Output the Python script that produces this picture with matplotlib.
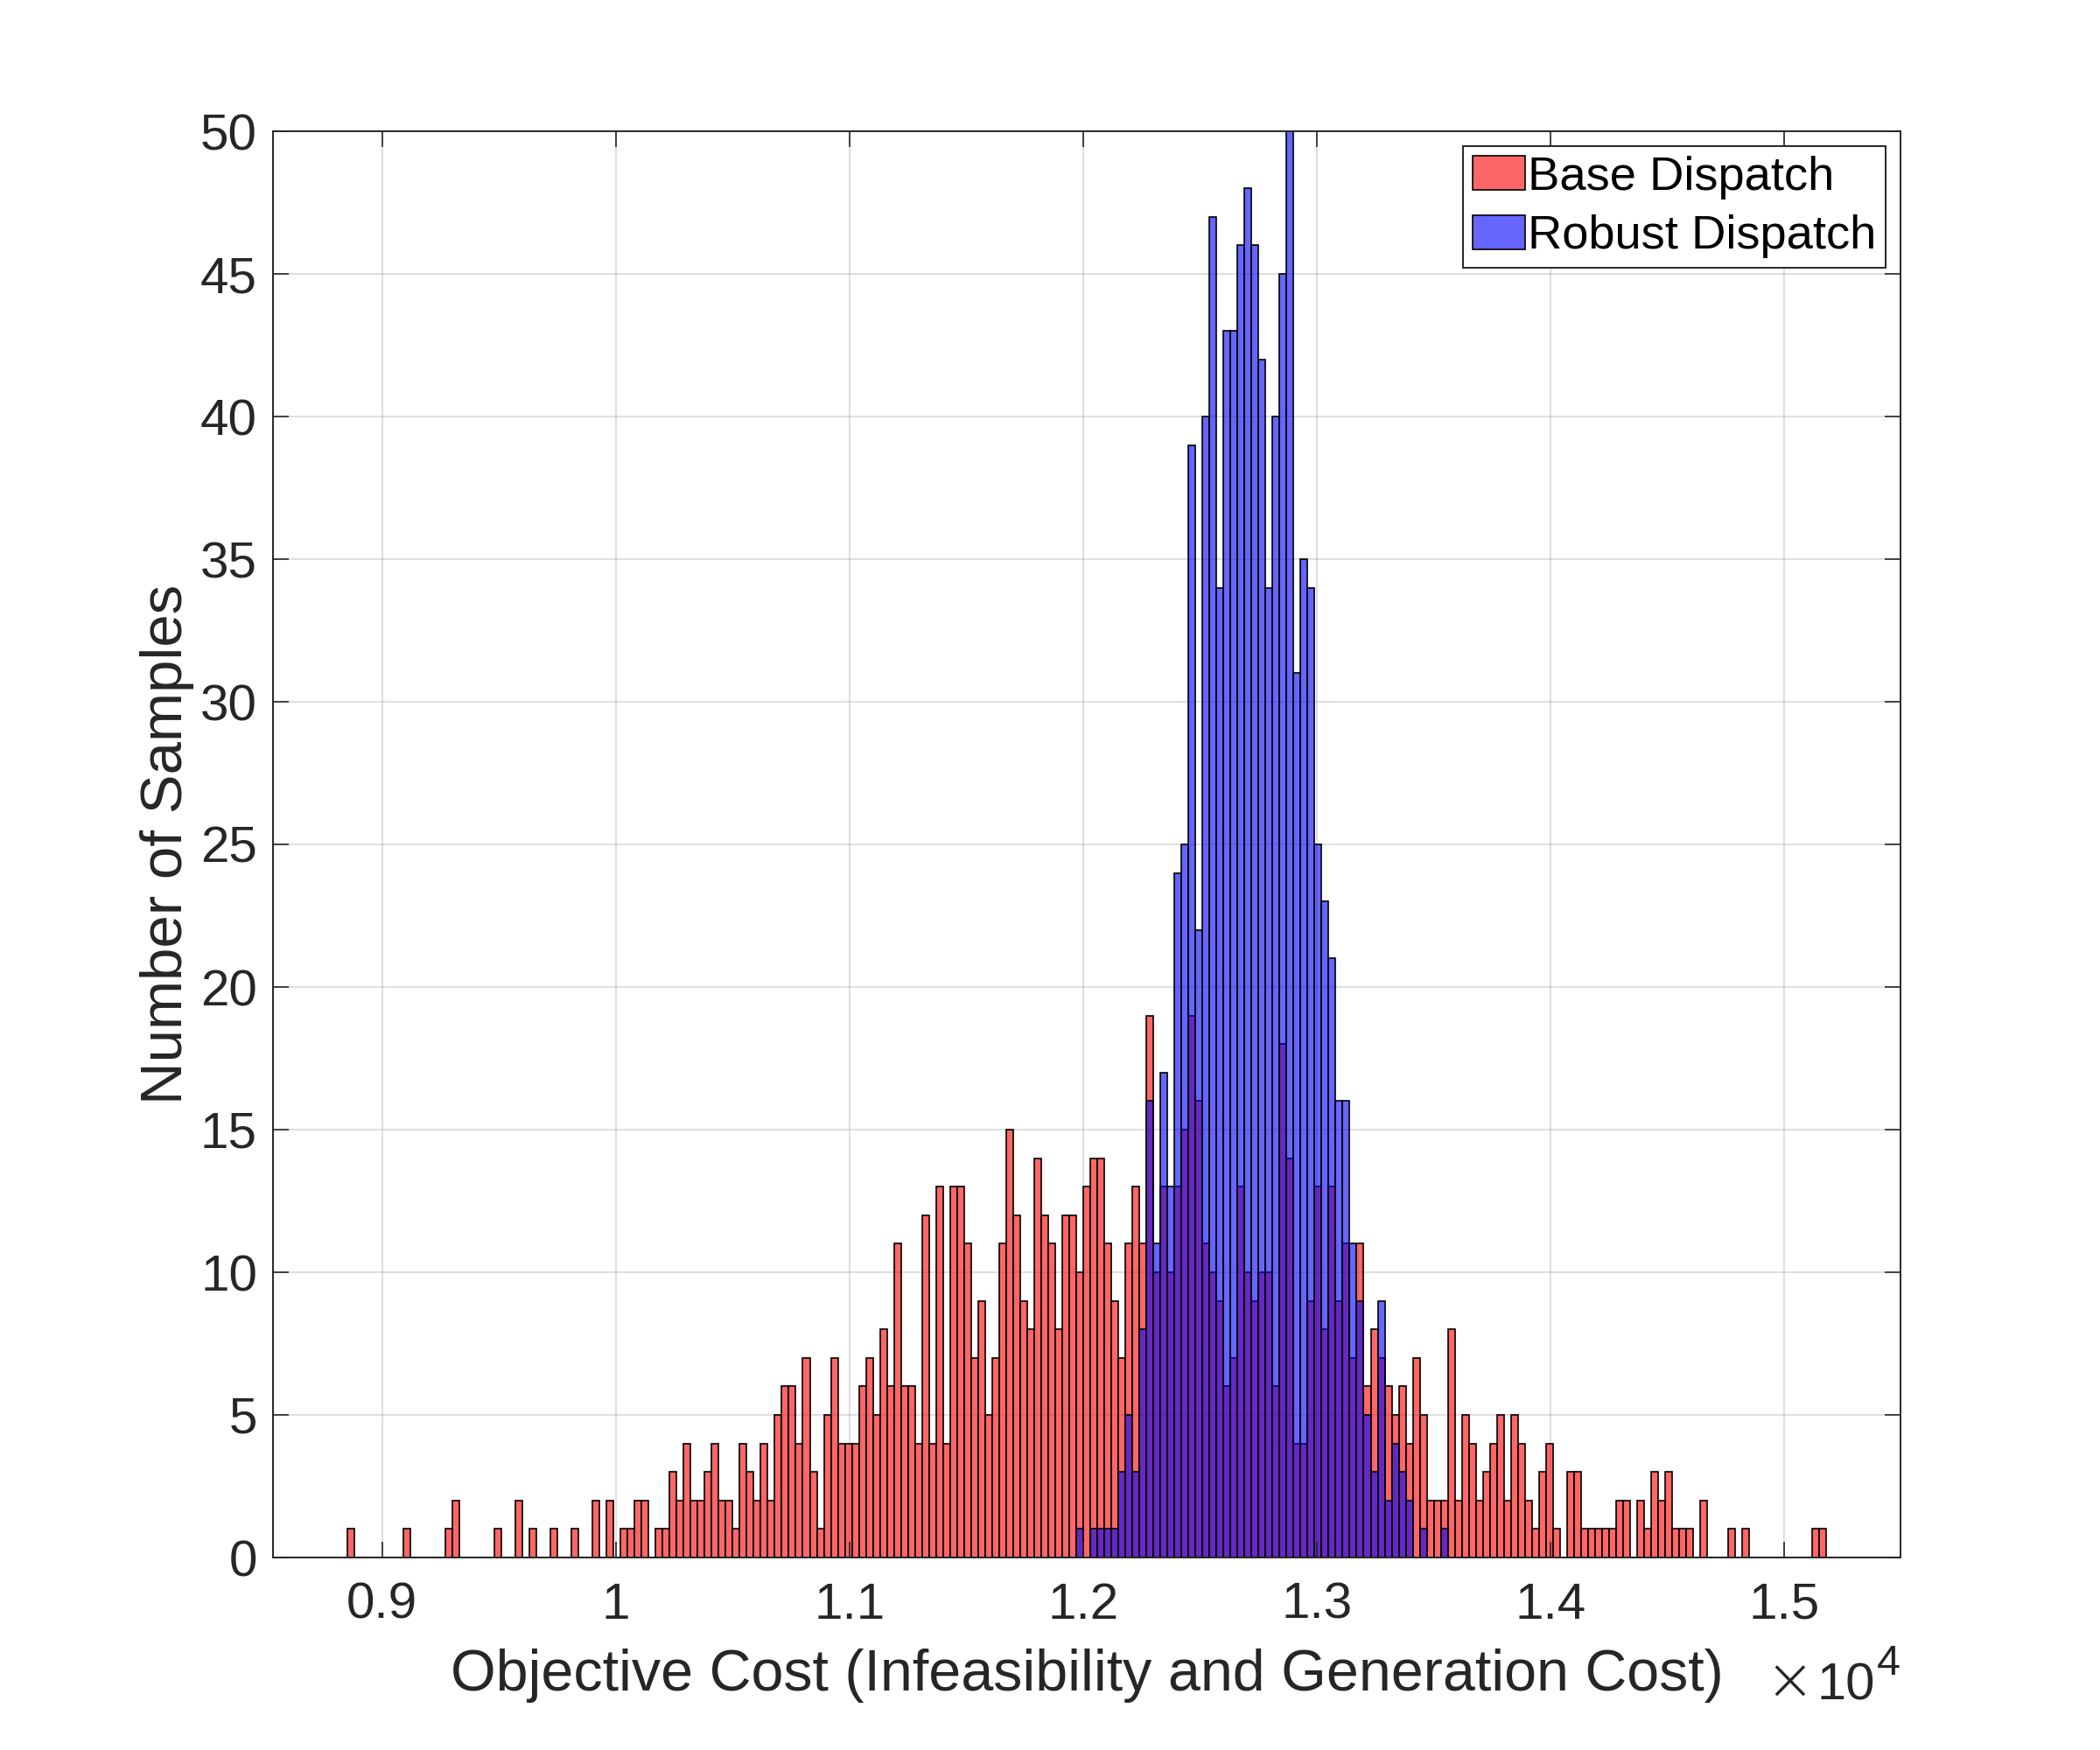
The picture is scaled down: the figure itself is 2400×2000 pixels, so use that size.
import numpy as np
import matplotlib
matplotlib.use("Agg")
import matplotlib.pyplot as plt

# ---------------- data (counts per bin, bin width 30) ----------------
bin_width = 30
base_start = 8850      # first bin left edge of Base Dispatch
base_counts = [
    1, 0, 0, 0, 0, 0, 0, 0, 1, 0,
    0, 0, 0, 0, 1, 2, 0, 0, 0, 0,
    0, 1, 0, 0, 2, 0, 1, 0, 0, 1,
    0, 0, 1, 0, 0, 2, 0, 2, 0, 1,
    1, 2, 2, 0, 1, 1, 3, 2, 4, 2,
    2, 3, 4, 2, 2, 1, 4, 3, 2, 4,
    2, 5, 6, 6, 4, 7, 3, 1, 5, 7,
    4, 4, 4, 6, 7, 5, 8, 6, 11, 6,
    6, 4, 12, 4, 13, 4, 13, 13, 11, 7,
    9, 5, 7, 11, 15, 12, 9, 8, 14, 12,
    11, 8, 12, 12, 10, 13, 14, 14, 11, 9,
    7, 11, 13, 11, 19, 10, 13, 10, 13, 15,
    19, 16, 11, 10, 9, 6, 7, 13, 10, 9,
    10, 10, 6, 18, 14, 4, 4, 9, 13, 8,
    13, 9, 11, 7, 11, 6, 8, 7, 6, 5,
    6, 4, 7, 5, 2, 2, 2, 8, 2, 5,
    4, 2, 3, 4, 5, 2, 5, 4, 2, 1,
    3, 4, 1, 0, 3, 3, 1, 1, 1, 1,
    1, 2, 2, 0, 2, 1, 3, 2, 3, 1,
    1, 1, 0, 2, 0, 0, 0, 1, 0, 1,
    0, 0, 0, 0, 0, 0, 0, 0, 0, 1,
    1,
]
robust_start = 11970   # first bin left edge of Robust Dispatch
robust_counts = [
    1, 0, 1, 1, 1, 1, 3, 5, 3, 8,
    16, 11, 17, 13, 24, 25, 39, 22, 40, 47,
    34, 43, 43, 46, 48, 46, 42, 34, 40, 45,
    50, 31, 35, 34, 25, 23, 21, 16, 16, 11,
    9, 5, 3, 9, 2, 4, 3, 2, 0, 1,
    0, 0, 1,
]
series_labels = ["Base Dispatch", "Robust Dispatch"]
x_ticks = [9000, 10000, 11000, 12000, 13000, 14000, 15000]
x_ticklabels = ["0.9", "1", "1.1", "1.2", "1.3", "1.4", "1.5"]
y_ticks = [0, 5, 10, 15, 20, 25, 30, 35, 40, 45, 50]
x_label = "Objective Cost (Infeasibility and Generation Cost)"
y_label = "Number of Samples"

# ---------------- style ----------------
plt.rcParams['font.family'] = ['Liberation Sans', 'DejaVu Sans']
axcol = '#262626'

fig = plt.figure(figsize=(12, 10), dpi=200)
ax = fig.add_axes([0.13, 0.11, 0.775, 0.815])

# grid behind the bars
ax.vlines(x_ticks, 0, 1, transform=ax.get_xaxis_transform(),
          colors=axcol, alpha=0.15, linewidth=0.7, zorder=0)
ax.hlines(y_ticks, 0, 1, transform=ax.get_yaxis_transform(),
          colors=axcol, alpha=0.15, linewidth=0.7, zorder=0)

base_edges = base_start + bin_width * np.arange(len(base_counts) + 1)
robust_edges = robust_start + bin_width * np.arange(len(robust_counts) + 1)

ax.hist(base_edges[:-1], bins=base_edges, weights=base_counts,
        facecolor=(1, 0, 0, 0.6), edgecolor='black', linewidth=0.6,
        label=series_labels[0], zorder=1)
ax.hist(robust_edges[:-1], bins=robust_edges, weights=robust_counts,
        facecolor=(0, 0, 1, 0.6), edgecolor='black', linewidth=0.6,
        label=series_labels[1], zorder=1)

ax.set_xlim(8533, 15497)
ax.set_ylim(0, 50)
ax.set_xticks(x_ticks)
ax.set_xticklabels(x_ticklabels)
ax.set_yticks(y_ticks)

ax.tick_params(axis='both', which='both', direction='in', length=6.5,
               width=0.6, color=axcol, labelcolor=axcol, labelsize=21,
               top=True, right=True)
ax.tick_params(axis='x', pad=10)
ax.tick_params(axis='y', pad=6.5)
for sp in ax.spines.values():
    sp.set_color(axcol)
    sp.set_linewidth(0.7)
    sp.set_zorder(3)

ax.set_xlabel(x_label, fontsize=23.9, color=axcol)
ax.xaxis.label.set_va('baseline')
ax.xaxis.set_label_coords(0.5, -0.0933)
ax.set_ylabel(y_label, fontsize=24.2, color=axcol)
ax.yaxis.set_label_coords(-0.0484, 0.5)

# exponent label: "×10" with a raised "4"
ax.annotate('4', xy=(1.0, -0.0999), xycoords='axes fraction',
            xytext=(0, 10.4), textcoords='offset points',
            ha='right', va='baseline', fontsize=17.5, color=axcol)
ax.annotate('10', xy=(1.0, -0.0999), xycoords='axes fraction',
            xytext=(-10.5, 0), textcoords='offset points',
            ha='right', va='baseline', fontsize=21.5, color=axcol)
ax.annotate('\u00d7', xy=(1.0, -0.0999), xycoords='axes fraction',
            xytext=(-35.5, 0), textcoords='offset points',
            ha='right', va='baseline', fontsize=24, color=axcol,
            family=['DejaVu Sans'], fontweight='ultralight')

leg = ax.legend(loc='upper right', bbox_to_anchor=(0.991, 0.9896),
                borderaxespad=0, fontsize=19.6, frameon=True, fancybox=False,
                framealpha=1, edgecolor=axcol, handlelength=1.1,
                handleheight=0.72, handletextpad=0.06, borderpad=0.2,
                labelspacing=0.32)
leg.get_frame().set_linewidth(0.7)

fig.savefig('out.png', dpi=200, facecolor='white')
